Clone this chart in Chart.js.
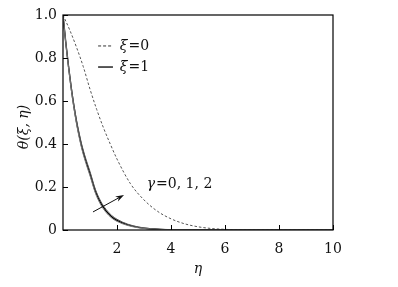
<!DOCTYPE html>
<html>
<head>
<meta charset="utf-8">
<script src="https://cdn.jsdelivr.net/npm/chart.js@4/dist/chart.umd.min.js"></script>
<style>
  html, body { margin: 0; padding: 0; background: #fff; }
  canvas { display: block; }
</style>
</head>
<body>
<canvas id="theta" width="398" height="287"></canvas>
<script>
// values: theta(xi, eta) profiles
var etaXi0 = [0, 0.25, 0.5, 0.75, 1.0, 1.25, 1.5, 1.75, 2.0, 2.5, 3.0, 3.5, 4.0, 4.5, 5.0, 5.5, 6.0, 7, 8, 9, 10];
var thetaXi0 = [1, 0.93, 0.85, 0.76, 0.655, 0.56, 0.475, 0.40, 0.33, 0.215, 0.14, 0.087, 0.052, 0.029, 0.015, 0.007, 0.003, 0, 0, 0, 0];

var etaXi1 = [0, 0.1, 0.2, 0.3, 0.4, 0.5, 0.6, 0.7, 0.8, 0.9, 1.0, 1.2, 1.4, 1.6, 1.8, 2.0, 2.4, 2.8, 3.2, 3.6, 4.0, 5, 6, 7, 8, 9, 10];
var thetaG0 = [1, 0.872, 0.76, 0.658, 0.57, 0.494, 0.43, 0.375, 0.33, 0.29, 0.252, 0.171, 0.117, 0.081, 0.056, 0.04, 0.021, 0.010, 0.005, 0.0025, 0.001, 0.0002, 0, 0, 0, 0, 0];
var thetaG1 = [1, 0.875, 0.765, 0.665, 0.578, 0.503, 0.44, 0.385, 0.34, 0.30, 0.262, 0.18, 0.125, 0.088, 0.062, 0.045, 0.024, 0.012, 0.006, 0.003, 0.0015, 0.0003, 0, 0, 0, 0, 0];
var thetaG2 = [1, 0.878, 0.77, 0.672, 0.586, 0.512, 0.45, 0.395, 0.35, 0.31, 0.272, 0.189, 0.133, 0.095, 0.068, 0.05, 0.027, 0.014, 0.007, 0.0035, 0.0018, 0.0004, 0, 0, 0, 0, 0];

var xTicks = [2, 4, 6, 8, 10];
var yTicks = [0, 0.2, 0.4, 0.6, 0.8, 1.0];

var serif = "'DejaVu Serif', 'Liberation Serif', serif";

function pts(xs, ys) {
  return xs.map(function(x, i) { return {x: x, y: ys[i]}; });
}

function solid(data, color, width) {
  return {
    data: data,
    borderColor: color,
    borderWidth: width,
    pointRadius: 0,
    fill: false,
    cubicInterpolationMode: 'monotone'
  };
}

// box, inward ticks, legend, annotation and axis titles
var decor = {
  id: 'decor',
  afterDraw: function(chart) {
    var ctx = chart.ctx;
    var a = chart.chartArea;
    var xs = chart.scales.x, ys = chart.scales.y;
    ctx.save();
    ctx.strokeStyle = '#000';
    ctx.lineWidth = 1.2;
    ctx.strokeRect(a.left, a.top, a.right - a.left, a.bottom - a.top);

    ctx.lineWidth = 1;
    ctx.beginPath();
    xTicks.forEach(function(t) {
      var px = Math.round(xs.getPixelForValue(t)) + 0.5;
      ctx.moveTo(px, a.bottom); ctx.lineTo(px, a.bottom - 5);
    });
    yTicks.forEach(function(t) {
      var py = Math.round(ys.getPixelForValue(t)) + 0.5;
      ctx.moveTo(a.left, py); ctx.lineTo(a.left + 5, py);
    });
    ctx.stroke();

    // legend
    var lx0 = xs.getPixelForValue(1.3), lx1 = xs.getPixelForValue(1.85);
    var ly0 = ys.getPixelForValue(0.856), ly1 = ys.getPixelForValue(0.758);
    ctx.strokeStyle = '#333';
    ctx.setLineDash([3, 2]);
    ctx.beginPath(); ctx.moveTo(lx0, ly0); ctx.lineTo(lx1, ly0); ctx.stroke();
    ctx.setLineDash([]);
    ctx.strokeStyle = '#000';
    ctx.lineWidth = 1.3;
    ctx.beginPath(); ctx.moveTo(lx0, ly1); ctx.lineTo(lx1, ly1); ctx.stroke();

    ctx.fillStyle = '#111';
    ctx.textBaseline = 'middle';
    ctx.textAlign = 'left';
    var tx = xs.getPixelForValue(2.1);
    [['0', ly0], ['1', ly1]].forEach(function(r) {
      ctx.font = 'italic 14px ' + serif;
      ctx.fillText('ξ', tx, r[1]);
      var w = ctx.measureText('ξ').width;
      ctx.font = '14px ' + serif;
      ctx.fillText('=' + r[0], tx + w + 1, r[1]);
    });

    // gamma annotation and arrow
    var gx = xs.getPixelForValue(3.1), gy = ys.getPixelForValue(0.21);
    ctx.font = 'italic 14px ' + serif;
    ctx.fillText('γ', gx, gy);
    var gw = ctx.measureText('γ').width;
    ctx.font = '14px ' + serif;
    ctx.fillText('=0, 1, 2', gx + gw + 1, gy);

    var ax0 = xs.getPixelForValue(1.11), ay0 = ys.getPixelForValue(0.084);
    var ax1 = xs.getPixelForValue(2.26), ay1 = ys.getPixelForValue(0.163);
    var ang = Math.atan2(ay1 - ay0, ax1 - ax0);
    ctx.strokeStyle = '#111';
    ctx.lineWidth = 1;
    ctx.beginPath(); ctx.moveTo(ax0, ay0);
    ctx.lineTo(ax1 - 6 * Math.cos(ang), ay1 - 6 * Math.sin(ang)); ctx.stroke();
    ctx.beginPath();
    ctx.moveTo(ax1, ay1);
    ctx.lineTo(ax1 - 9 * Math.cos(ang - 0.33), ay1 - 9 * Math.sin(ang - 0.33));
    ctx.lineTo(ax1 - 6 * Math.cos(ang), ay1 - 6 * Math.sin(ang));
    ctx.lineTo(ax1 - 9 * Math.cos(ang + 0.33), ay1 - 9 * Math.sin(ang + 0.33));
    ctx.closePath(); ctx.fill();

    // axis titles
    ctx.textAlign = 'center';
    ctx.font = 'italic 14px ' + serif;
    ctx.fillText('η', (a.left + a.right) / 2, 269);
    ctx.translate(24, 127);
    ctx.rotate(-Math.PI / 2);
    ctx.fillText('θ(ξ, η)', 0, 0);
    ctx.restore();
  }
};

var chart = new Chart('theta', {
  type: 'line',
  data: {
    datasets: [
      {
        data: pts(etaXi0, thetaXi0),
        borderColor: '#555',
        borderWidth: 1,
        borderDash: [2.5, 2],
        pointRadius: 0,
        fill: false,
        cubicInterpolationMode: 'monotone'
      },
      solid(pts(etaXi1, thetaG0), '#777', 1),
      solid(pts(etaXi1, thetaG2), '#555', 1),
      solid(pts(etaXi1, thetaG1), '#000', 1.4)
    ]
  },
  options: {
    responsive: false,
    animation: false,
    layout: { padding: { top: 15, right: 65, left: 0, bottom: 0 } },
    plugins: { legend: { display: false }, tooltip: { enabled: false } },
    scales: {
      x: {
        type: 'linear',
        min: 0, max: 10,
        grid: { display: false, drawTicks: false },
        border: { display: false },
        afterFit: function(s) { s.height = 57; },
        ticks: {
          stepSize: 2,
          padding: 11,
          color: '#111',
          font: { family: serif, size: 14 },
          callback: function(v) { return v === 0 ? '' : v; }
        }
      },
      y: {
        min: 0, max: 1,
        grid: { display: false, drawTicks: false },
        border: { display: false },
        afterFit: function(s) { s.width = 63; },
        ticks: {
          stepSize: 0.2,
          padding: 6,
          color: '#111',
          font: { family: serif, size: 14 },
          callback: function(v) { return v === 0 ? '0' : v.toFixed(1); }
        }
      }
    }
  },
  plugins: [decor]
});
</script>
</body>
</html>
